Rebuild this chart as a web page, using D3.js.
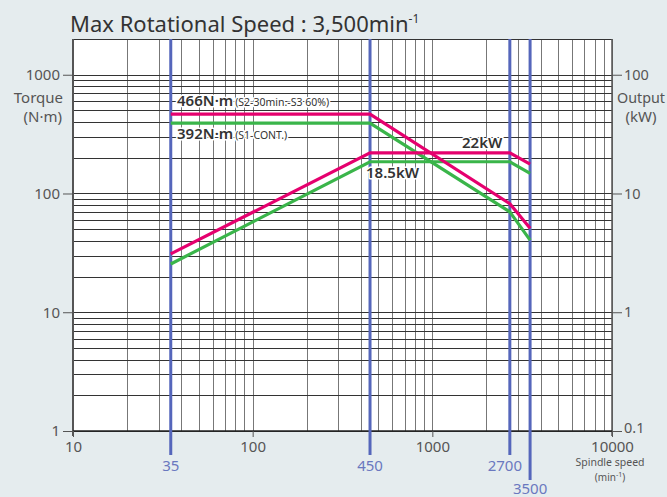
<!DOCTYPE html>
<html><head><meta charset="utf-8">
<script src="https://cdn.jsdelivr.net/npm/d3@7"></script>
<style>
html,body{margin:0;padding:0;background:#e5ecee;}
svg{display:block;font-family:"Noto Sans",sans-serif;}
</style></head>
<body>
<svg id="c" width="667" height="497"></svg>
<script>
// ---- data ----
const speedTicks = [10, 100, 1000, 10000];
const torqueTicks = [1, 10, 100, 1000];
const outputTicks = [0.1, 1, 10, 100];
const markSpeeds = [35, 450, 2700, 3500];
const curveSpeeds = [35, 450, 2700, 3500];
const s2Torque = [466, 466, 82, 51];
const s2Power = [3.1, 22, 22, 17.7];
const s1Torque = [392, 392, 70, 40.5];
const s1Power = [2.55, 18.5, 18.5, 14.8];

const svg = d3.select("#c");
const L = 73, R = 612, T = 39, B = 431;
const x = d3.scaleLog().domain([10, 10000]).range([L, R]);
const y = d3.scaleLog().domain([1, 2000]).range([B, T]);
const yR = d3.scaleLog().domain([0.1, 200]).range([B, T]);

// title
svg.append("text").attr("x", 70).attr("y", 32).attr("font-size", 22).attr("fill", "#333")
  .text("Max Rotational Speed : 3,500min")
  .append("tspan").attr("font-size", 12).attr("dy", -9).text("-1");

// plot bg
svg.append("rect").attr("x", L).attr("y", T).attr("width", R - L).attr("height", B - T).attr("fill", "#fff");

// grid values
const hVals = [];
[1, 10, 100, 1000].forEach(d => { for (let k = 1; k <= 9; k++) { const v = d * k; if (v <= 2000) hVals.push(v); } });
hVals.push(2000);
const vVals = [];
[10, 100, 1000].forEach(d => { for (let k = 1; k <= 9; k++) vVals.push(d * k); });
vVals.push(10000);

const g = svg.append("g").attr("shape-rendering", "crispEdges");
g.selectAll("line.v").data(vVals).join("line")
  .attr("x1", d => Math.round(x(d)) + 0.5).attr("x2", d => Math.round(x(d)) + 0.5)
  .attr("y1", T).attr("y2", B).attr("stroke", "#777").attr("stroke-width", 1);
g.selectAll("line.h").data(hVals).join("line")
  .attr("y1", d => Math.round(y(d)) + 0.5).attr("y2", d => Math.round(y(d)) + 0.5)
  .attr("x1", L).attr("x2", R).attr("stroke", "#333").attr("stroke-width", 1);

// frame
svg.append("line").attr("x1", L).attr("x2", L).attr("y1", T).attr("y2", B + 5).attr("stroke", "#555").attr("stroke-width", 2);
svg.append("line").attr("x1", R).attr("x2", R).attr("y1", T).attr("y2", B + 5).attr("stroke", "#555").attr("stroke-width", 1.5);
svg.append("line").attr("x1", L).attr("x2", R).attr("y1", B).attr("y2", B).attr("stroke", "#222").attr("stroke-width", 1.5);

// axes
const axL = d3.axisLeft(y).tickValues(torqueTicks).tickFormat(d3.format("d")).tickSize(10).tickPadding(3);
const axR = d3.axisRight(yR).tickValues(outputTicks).tickFormat(d => d < 1 ? "0.1" : d3.format("d")(d)).tickSize(10).tickPadding(2);
const axB = d3.axisBottom(x).tickValues(speedTicks).tickFormat(d3.format("d")).tickSize(6).tickPadding(4);
function styleAx(sel) {
  sel.select(".domain").remove();
  sel.selectAll(".tick line").attr("stroke", "#555");
  sel.selectAll("text").attr("fill", "#555").attr("font-size", 15).attr("font-family", "Noto Sans");
}
svg.append("g").attr("transform", `translate(${L},0)`).call(axL).call(styleAx);
svg.append("g").attr("transform", `translate(${R},0)`).call(axR).call(styleAx)
  .selectAll("text").attr("font-size", 14.5).attr("dy", d => d < 1 ? "0.1em" : "0.32em");
svg.append("g").attr("transform", `translate(0,${B})`).call(axB).call(styleAx);

// axis titles
const at = (xx, yy, t, size, anchor) => svg.append("text").attr("x", xx).attr("y", yy).attr("font-size", size)
  .attr("fill", "#555").attr("text-anchor", anchor).text(t);
at(63, 103, "Torque", 15, "end");
at(62, 122, "(N·m)", 15, "end");
at(641, 103, "Output", 14.5, "middle").attr("textLength", 48).attr("lengthAdjust", "spacingAndGlyphs");
at(641, 122, "(kW)", 15, "middle");
at(610, 466, "Spindle speed", 10.5, "middle");
const mt = at(610, 481, "(min", 10, "middle");
mt.append("tspan").attr("font-size", 7).attr("dy", -4).text("-1");
mt.append("tspan").attr("dy", 4).text(")");

// speed markers
const blue = "#5566bb";
svg.selectAll("line.mk").data(markSpeeds).join("line")
  .attr("x1", d => x(d)).attr("x2", d => x(d))
  .attr("y1", T).attr("y2", (d, i) => i === 3 ? 480 : 455)
  .attr("stroke", blue).attr("stroke-width", 3);
svg.selectAll("text.mk").data(markSpeeds).join("text")
  .attr("x", (d, i) => x(d) + (i === 2 ? -5 : 0))
  .attr("y", (d, i) => i === 3 ? 494 : 471)
  .attr("text-anchor", "middle").attr("font-size", 15).attr("fill", "#6a78bf").text(d => d);

// curves
const lineT = d3.line().x((d, i) => x(curveSpeeds[i])).y(d => y(d));
const lineP = d3.line().x((d, i) => x(curveSpeeds[i])).y(d => yR(d));
const mag = "#e5006e", grn = "#3ab54a";
[[s1Torque, lineT, grn], [s1Power, lineP, grn], [s2Torque, lineT, mag], [s2Power, lineP, mag]].forEach(([arr, fn, col]) => {
  svg.append("path").attr("d", fn(arr)).attr("fill", "none").attr("stroke", col).attr("stroke-width", 3.2)
    .attr("stroke-linejoin", "miter");
});

// annotations
function ann(xx, yy, big, small) {
  const t = svg.append("text").attr("x", xx).attr("y", yy).attr("fill", "#333")
    .attr("stroke", "#fff").attr("stroke-width", 3).attr("paint-order", "stroke").attr("stroke-linejoin", "round");
  t.append("tspan").attr("font-size", 15).attr("font-weight", 600).text(big);
  if (small) t.append("tspan").attr("font-size", 10.5).attr("dx", 2).text(small);
}
ann(177, 106, "466N·m", "(S2-30min.-S3 60%)");
ann(177, 139, "392N·m", "(S1-CONT.)");
ann(462, 148, "22kW", null);
ann(366, 178, "18.5kW", null);
</script>
</body></html>
